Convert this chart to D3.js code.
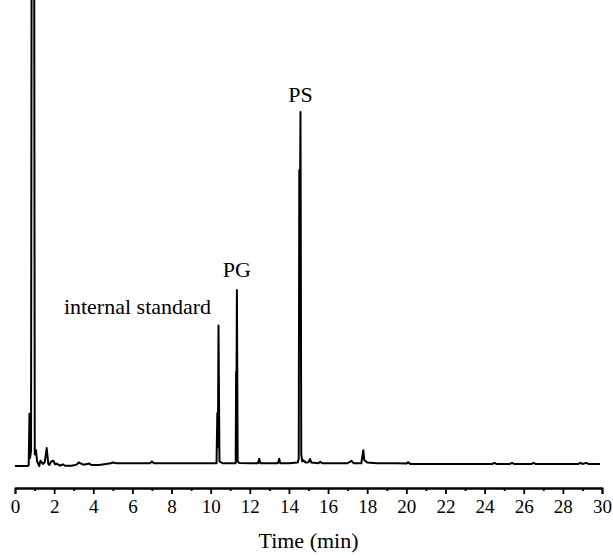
<!DOCTYPE html>
<html>
<head>
<meta charset="utf-8">
<script src="https://cdn.jsdelivr.net/npm/d3@7"></script>
<style>
  body { margin: 0; background: #fff; }
  text { font-family: "Liberation Serif", "Times New Roman", serif; fill: #000; }
</style>
</head>
<body>
<script>
// chromatogram trace (time in min, detector signal in arbitrary units)
var time = [0, 0.4, 0.65, 0.70, 0.74, 0.77, 0.82, 0.86, 0.97, 1.01, 1.07, 1.13, 1.24, 1.30, 1.36, 1.43, 1.52, 1.62, 1.70, 1.75,
            1.85, 1.96, 2.05, 2.13, 2.3, 2.45, 2.55, 2.9, 3.15, 3.25, 3.5, 3.8, 3.9, 4.3, 4.9, 5.0, 5.2, 6.0, 6.9, 7.0, 7.1,
            8.0, 9.0, 10.0, 10.30, 10.34, 10.37, 10.40, 10.45, 10.6, 11.0, 11.28, 11.30, 11.32, 11.34, 11.38, 11.45,
            12.0, 12.42, 12.48, 12.54, 13.0, 13.44, 13.5, 13.56, 14.0, 14.45, 14.50, 14.53, 14.56, 14.59, 14.63, 14.68,
            14.75, 14.85, 15.0, 15.08, 15.15, 15.5, 15.6, 15.7, 16.2, 17.0, 17.2, 17.3, 17.7, 17.8, 17.85, 17.9, 18.0,
            18.5, 19.5, 20.0, 20.1, 20.2, 20.8, 22.0, 24.4, 24.5, 24.6, 25.3, 25.4, 25.5, 26.4, 26.5, 26.6, 28.8, 28.9,
            29.0, 29.2, 29.3, 29.9];
var signal = [-0.3, -0.3, -0.3, 0, 14.5, 2, 4, 200, 200, 3, 4.2, 1, -0.3, 1.2, 0.8, 0.3, 0.8, 4.8, 0.4, 0,
              1.0, 1.2, 0.2, 0.4, -0.2, 0.2, -0.2, -0.2, 0.1, 0.7, 0.1, 0.4, 0, 0, 0.5, 0.7, 0.5, 0.5, 0.5, 1.0, 0.5,
              0.5, 0.5, 0.5, 0.5, 14.7, 5, 39.5, 1, 0.5, 0.5, 0.5, 26.4, 20, 49.6, 1, 0.6,
              0.5, 0.5, 1.8, 0.5, 0.5, 0.5, 1.8, 0.5, 0.5, 0.7, 1.8, 83.6, 70, 100, 3, 1,
              1.3, 0.7, 0.8, 1.7, 0.7, 0.5, 0.9, 0.5, 0.5, 0.5, 1.2, 0.5, 0.5, 4.2, 1.4, 1.2, 0.7,
              0.5, 0.5, 0.4, 0.8, 0.3, 0.3, 0.3, 0.3, 0.6, 0.3, 0.3, 0.6, 0.3, 0.3, 0.6, 0.3, 0.3, 0.6,
              0.3, 0.6, 0.3, 0.3];

// peak labels
var peakNames = ["internal standard", "PG", "PS"];
var peakTimes = [10.40, 11.34, 14.59];
var peakHeights = [39.5, 49.6, 100];

var majorTicks = d3.range(0, 31, 2);
var minorTicks = d3.range(1, 30, 2);

var w = 613;
var h = 558;

var x = d3.scaleLinear()
    .domain([0, 30])
    .range([15, 602]);

var y = d3.scaleLinear()
    .domain([0, 100])
    .range([465, 112]);

var svg = d3.select("body")
    .append("svg")
    .attr("width", w)
    .attr("height", h);

var data = time.map(function (t, i) {
    return {t: t, s: signal[i]};
});

var line = d3.line()
    .x(function (d) { return x(d.t); })
    .y(function (d) { return y(d.s); });

svg.append("path")
    .datum(data)
    .attr("fill", "none")
    .attr("stroke", "#000")
    .attr("stroke-width", 2)
    .attr("stroke-linejoin", "round")
    .attr("d", line);

// labels above the peaks
var labelDx = [-81, 0, 0];
var labelDy = [-12, -13, -10];
svg.selectAll(".peak-label")
    .data(peakNames)
    .enter()
    .append("text")
    .attr("class", "peak-label")
    .attr("x", function (d, i) { return x(peakTimes[i]) + labelDx[i]; })
    .attr("y", function (d, i) { return y(peakHeights[i]) + labelDy[i]; })
    .attr("text-anchor", "middle")
    .style("font-size", "22px")
    .text(function (d) { return d; });

// x axis: labelled major ticks and short minor ticks
var axisY = 488;

svg.append("g")
    .attr("transform", "translate(0," + axisY + ")")
    .call(d3.axisBottom(x).tickValues(minorTicks).tickSize(3).tickSizeOuter(0).tickFormat(""))
    .call(function (g) { g.selectAll("line,path").attr("stroke-width", 1.8); });

var xAxis = svg.append("g")
    .attr("transform", "translate(0," + axisY + ")")
    .attr("font-family", "'Liberation Serif', 'Times New Roman', serif")
    .attr("font-size", 19)
    .call(d3.axisBottom(x).tickValues(majorTicks).tickSize(6).tickPadding(6).tickFormat(d3.format("d")));

xAxis.attr("font-family", "'Liberation Serif', 'Times New Roman', serif").attr("font-size", 19);
xAxis.selectAll("line,path").attr("stroke-width", 1.8);

svg.append("text")
    .attr("x", (x(0) + x(30)) / 2)
    .attr("y", 548)
    .attr("text-anchor", "middle")
    .style("font-size", "22px")
    .text("Time (min)");
</script>
</body>
</html>
